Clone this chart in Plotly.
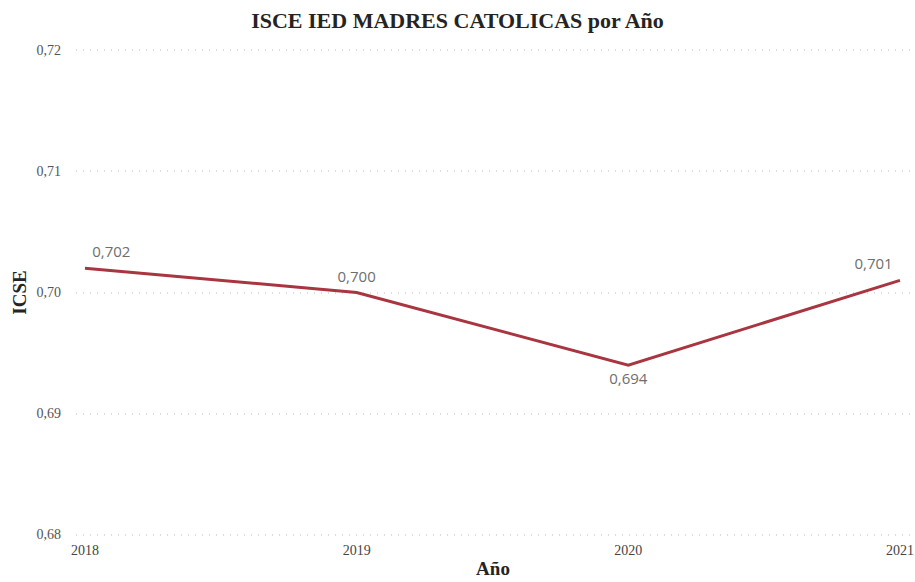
import plotly.graph_objects as go

years = [2018, 2019, 2020, 2021]
icse = [0.702, 0.700, 0.694, 0.701]
labels = ["0,702", "0,700", "0,694", "0,701"]
text_pos = ["top right", "top center", "bottom center", "top left"]
y_ticks = [0.68, 0.69, 0.70, 0.71, 0.72]
y_tick_text = ["0,68", "0,69", "0,70", "0,71", "0,72"]

serif = "Liberation Serif, Times New Roman, serif"

fig = go.Figure()
fig.add_trace(go.Scatter(
    x=years, y=icse, mode="lines+markers+text",
    line=dict(color="#A8353F", width=3),
    marker=dict(size=10, color="#A8353F", opacity=0),
    text=labels, textposition=text_pos,
    textfont=dict(family="Open Sans, Noto Sans, sans-serif", size=15, color="#6e6e6e"),
    cliponaxis=False, hoverinfo="x+y",
))

fig.update_layout(
    width=915, height=582,
    margin=dict(l=76, r=5, t=48, b=45, autoexpand=False),
    paper_bgcolor="white", plot_bgcolor="white",
    separators=",.",
    showlegend=False,
    title=dict(text="<b>ISCE IED MADRES CATOLICAS por Año</b>", x=0.5, xanchor="center",
               y=1 - 20 / 582, yanchor="middle",
               font=dict(family=serif, size=22, color="#252423")),
    xaxis=dict(
        range=[2018 - 0.033, 2021 + 0.037],
        tickmode="array", tickvals=years, ticktext=[str(y) for y in years],
        showgrid=False, zeroline=False, showline=False,
        tickfont=dict(family=serif, size=14, color="#444444"),
        ticks="", ticklabelstandoff=3, automargin=False,
        title=dict(text="<b>Año</b>", font=dict(family=serif, size=19, color="#252423"), standoff=4),
    ),
    yaxis=dict(
        range=[0.6798, 0.7202],
        tickmode="array", tickvals=y_ticks, ticktext=y_tick_text,
        showgrid=True, gridcolor="#dcdcdc", griddash="1px,6px", gridwidth=1.5,
        zeroline=False, showline=False, ticks="",
        ticklabelstandoff=14, automargin=False,
        tickfont=dict(family=serif, size=14, color="#555555"),
        title=dict(text="<b>ICSE</b>", font=dict(family=serif, size=19, color="#252423"), standoff=4),
    ),
)

fig.write_html(
    "out.html",
    config={"displayModeBar": False},
    post_script="document.body.style.margin='0';document.body.style.overflow='hidden';",
)
